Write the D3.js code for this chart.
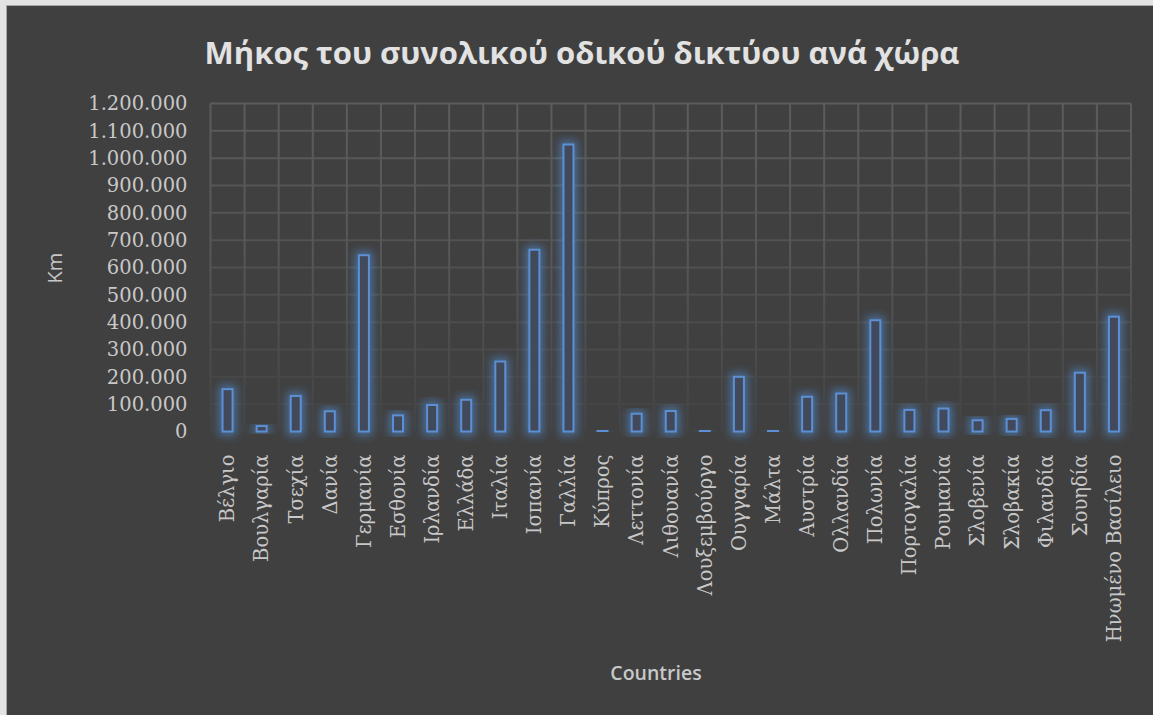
<!doctype html>
<html>
<head>
  <meta charset="UTF-8">
  <script src="https://d3js.org/d3.v7.min.js"></script>
  <style>
    html, body { margin: 0; padding: 0; background: #dcdcdc; }
    svg { display: block; }
  </style>
</head>
<body>
<svg id="chart" width="1153" height="715"></svg>
<script>
// data (km of road network)
const countries = ["Βέλγιο", "Βουλγαρία", "Τσεχία", "Δανία", "Γερμανία", "Εσθονία", "Ιρλανδία",
  "Ελλάδα", "Ιταλία", "Ισπανία", "Γαλλία", "Κύπρος", "Λεττονία", "Λιθουανία", "Λουξεμβούργο",
  "Ουγγαρία", "Μάλτα", "Αυστρία", "Ολλανδία", "Πολωνία", "Πορτογαλία", "Ρουμανία", "Σλοβενία",
  "Σλοβακία", "Φιλανδία", "Σουηδία", "Ηνωμένο Βασίλειο"];
const roadKm = [155000, 20000, 130000, 74000, 645000, 59000, 97000,
  116000, 256000, 665000, 1050000, 4000, 65000, 75000, 3000,
  200000, 2500, 127000, 139000, 407000, 79000, 84000, 41000,
  46000, 78000, 215000, 420000];
const yTicks = [0, 100000, 200000, 300000, 400000, 500000, 600000, 700000, 800000, 900000, 1000000, 1100000, 1200000];

const titleText = "Μήκος του συνολικού οδικού δικτύου ανά χώρα";

const svg = d3.select("#chart");
const W = 1153, H = 715;
const margin = {top: 103.5, right: 22, bottom: 283.5, left: 210.5};
const width = W - margin.left - margin.right;
const height = H - margin.top - margin.bottom;

// background panel
svg.append("rect").attr("x", 0).attr("y", 0).attr("width", W).attr("height", H).attr("fill", "#e3e3e3");
svg.append("rect").attr("x", 6).attr("y", 5).attr("width", W - 6).attr("height", H - 5).attr("fill", "#a8a8a8");
svg.append("rect").attr("x", 7).attr("y", 6).attr("width", W - 7).attr("height", H - 6).attr("fill", "#404040");

const defs = svg.append("defs");
const glow = defs.append("filter").attr("id", "glow")
  .attr("x", "-200%").attr("y", "-30%").attr("width", "500%").attr("height", "160%");
glow.append("feMorphology").attr("in", "SourceAlpha").attr("operator", "dilate").attr("radius", 2.5).attr("result", "fat");
glow.append("feGaussianBlur").attr("in", "fat").attr("stdDeviation", 4.5).attr("result", "blur");
glow.append("feFlood").attr("flood-color", "#4f86c6").attr("flood-opacity", 0.65);
glow.append("feComposite").attr("in2", "blur").attr("operator", "in").attr("result", "halo");
const mrg = glow.append("feMerge");
mrg.append("feMergeNode").attr("in", "halo");
mrg.append("feMergeNode").attr("in", "SourceGraphic");

const fade = defs.append("linearGradient").attr("id", "fade")
  .attr("gradientUnits", "userSpaceOnUse")
  .attr("x1", 0).attr("y1", 0).attr("x2", 0).attr("y2", height);
fade.append("stop").attr("offset", "0%").attr("stop-color", "#5c5c5c");
fade.append("stop").attr("offset", "45%").attr("stop-color", "#575757");
fade.append("stop").attr("offset", "100%").attr("stop-color", "#434343");

const x = d3.scaleBand().domain(countries).range([0, width]).paddingInner(0).paddingOuter(0);
const y = d3.scaleLinear().domain([0, 1200000]).range([height, 0]);
const fmt = d3.formatLocale({decimal: ",", thousands: ".", grouping: [3], currency: ["", "€"]}).format(",");

const g = svg.append("g").attr("transform", "translate(" + margin.left + "," + margin.top + ")");

// grid
const fadeColor = d3.scaleLinear().domain([0, height]).range(["#5c5c5c", "#444444"]);
g.append("g").selectAll("line.h")
  .data(yTicks.slice(1))
  .enter().append("line")
  .attr("x1", 0).attr("x2", width)
  .attr("y1", d => y(d)).attr("y2", d => y(d))
  .attr("stroke", d => fadeColor(y(d)))
  .attr("stroke-width", 2);
const edges = countries.map(c => x(c)).concat([width]);
g.append("g").selectAll("line.v")
  .data(edges)
  .enter().append("line")
  .attr("x1", d => d).attr("x2", d => d)
  .attr("y1", 0).attr("y2", height)
  .attr("stroke", "url(#fade)")
  .attr("stroke-width", 2);

// y axis labels
const yAxis = g.append("g")
  .call(d3.axisLeft(y).tickValues(yTicks).tickFormat(fmt).tickSize(0).tickPadding(23));
yAxis.select(".domain").remove();
yAxis.selectAll("text")
  .attr("fill", "#c8c8c8")
  .style("font-family", "'DejaVu Serif', serif")
  .style("font-size", "19.5px");

// x axis labels
const xAxis = g.append("g").attr("transform", "translate(0," + height + ")")
  .call(d3.axisBottom(x).tickSize(0).tickPadding(0));
xAxis.select(".domain").remove();
xAxis.selectAll("text")
  .attr("fill", "#c8c8c8")
  .attr("transform", "rotate(-90)")
  .attr("x", -23)
  .attr("y", 0)
  .attr("dy", "0.35em")
  .attr("text-anchor", "end")
  .style("font-family", "'DejaVu Serif', serif")
  .style("font-size", "19.5px");

// bars
const barW = 10;
g.append("g").selectAll(".bar")
  .data(roadKm)
  .enter().append("rect")
  .attr("class", "bar")
  .attr("x", (d, i) => x(countries[i]) + x.bandwidth() / 2 - barW / 2)
  .attr("y", d => y(d))
  .attr("width", barW)
  .attr("height", d => height - y(d))
  .attr("fill", "#43495a")
  .attr("stroke", "#5b8fd3")
  .attr("stroke-width", 2)
  .attr("filter", "url(#glow)");

// titles
svg.append("text")
  .attr("x", 582).attr("y", 64)
  .attr("text-anchor", "middle")
  .attr("fill", "#e2e2e2")
  .style("font-family", "'Open Sans', sans-serif")
  .style("font-weight", 700)
  .style("font-size", "31px")
  .text(titleText);

svg.append("text")
  .attr("transform", "translate(62,268) rotate(-90)")
  .attr("text-anchor", "middle")
  .attr("fill", "#c8c8c8")
  .style("font-family", "'Open Sans', sans-serif")
  .style("font-size", "20px")
  .text("Km");

svg.append("text")
  .attr("x", 656).attr("y", 680)
  .attr("text-anchor", "middle")
  .attr("fill", "#c8c8c8")
  .style("font-family", "'Open Sans', sans-serif")
  .style("font-weight", 600)
  .style("font-size", "19.5px")
  .text("Countries");
</script>
</body>
</html>
